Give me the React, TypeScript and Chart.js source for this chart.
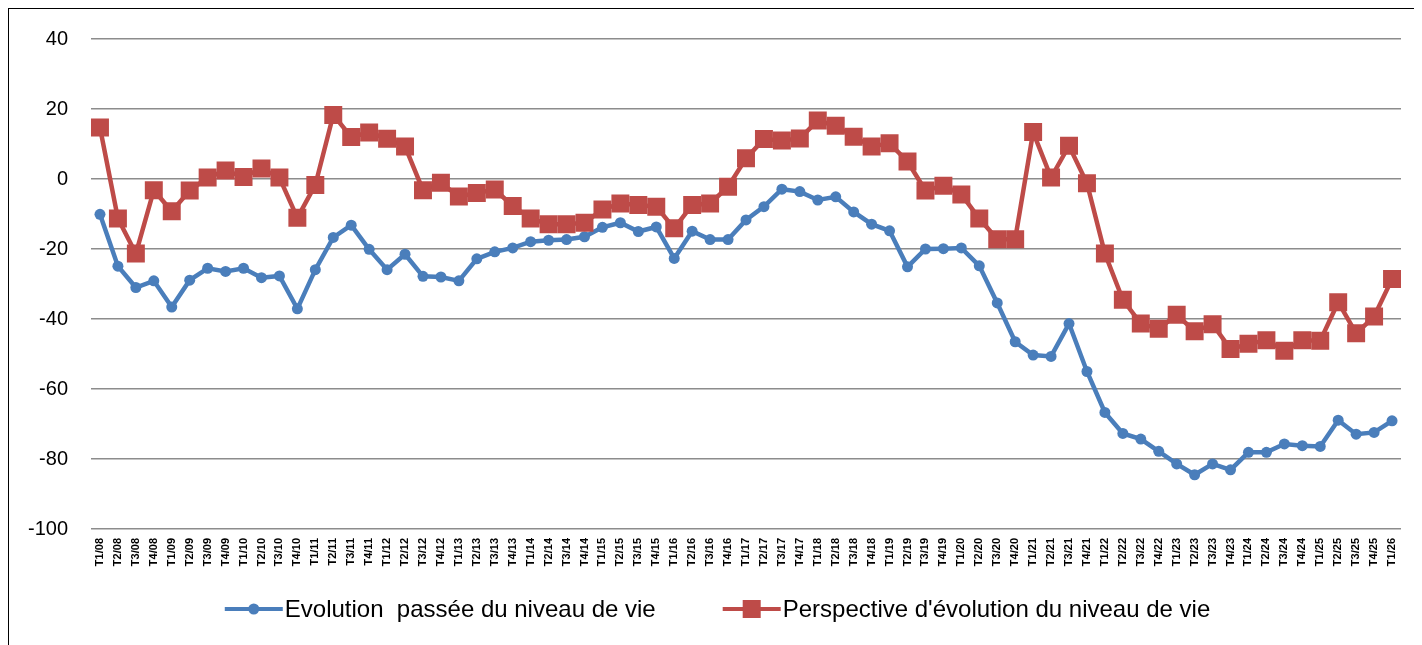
import React, { useEffect, useRef } from "react";
import { Chart, registerables } from "chart.js";

Chart.register(...registerables);

const years = ["08","09","10","11","12","13","14","15","16","17","18","19","20","21","22","23","24","25"];
const quarters = ["T1", "T2", "T3", "T4"];
const categories: string[] = [
  ...years.flatMap((y) => quarters.map((q) => `${q}/${y}`)),
  "T1/26",
];

const seriesLabels = [
  "Evolution  passée du niveau de vie",
  "Perspective d'évolution du niveau de vie",
];

const passee = [
  -10.1, -24.9, -31, -29.1, -36.6, -28.9, -25.5, -26.4, -25.5, -28.2,
  -27.7, -37.1, -25.9, -16.7, -13.2, -20.1, -25.9, -21.5, -27.8, -28,
  -29.1, -22.8, -20.8, -19.7, -17.9, -17.5, -17.3, -16.5, -13.8, -12.5,
  -15, -13.7, -22.7, -14.9, -17.3, -17.3, -11.7, -7.9, -2.9, -3.6,
  -6, -5.1, -9.4, -12.9, -14.8, -25.1, -20, -19.9, -19.7, -24.8,
  -35.4, -46.5, -50.3, -50.7, -41.3, -55, -66.7, -72.7, -74.3, -77.8,
  -81.4, -84.5, -81.4, -83.1, -78.1, -78.1, -75.7, -76.2, -76.4, -68.9,
  -72.9, -72.4, -69.1,
];

const perspective = [
  14.7, -11.3, -21.3, -3.2, -9.2, -3.3, 0.4, 2.4, 0.6, 3.0,
  0.4, -11.1, -1.7, 18.3, 12, 13.3, 11.5, 9.3, -3.2, -1.1,
  -5, -4, -3, -7.7, -11.3, -12.9, -12.9, -12.5, -8.7, -7,
  -7.4, -7.9, -14.1, -7.4, -7, -2.2, 5.9, 11.4, 11, 11.6,
  16.7, 15.2, 12.1, 9.3, 10.2, 5, -3.3, -1.9, -4.4, -11.3,
  -17.2, -17.2, 13.4, 0.4, 9.5, -1.2, -21.3, -34.5, -41.3, -42.8,
  -38.8, -43.5, -41.5, -48.6, -47.1, -46.1, -49.1, -46.1, -46.2, -35.2,
  -44.1, -39.3, -28.6,
];

const yMin = -100;
const yMax = 40;
const yStep = 20;

const BLUE = "#4A7EBB";
const RED = "#BE4B48";
const FONT = "'Liberation Sans', Arial, sans-serif";

const legendPlugin = {
  id: "customLegend",
  afterDraw(chart: any) {
    const ctx = chart.ctx;
    const datasets = chart.data.datasets;
    ctx.save();
    ctx.font = `24px ${FONT}`;
    const markerW = 58;
    const gapText = 2;
    const gapItems = 67;
    const widths = datasets.map((d: any) => markerW + gapText + ctx.measureText(d.label).width);
    const total = widths.reduce((a: number, b: number) => a + b, 0) + gapItems * (datasets.length - 1);
    let x = chart.width / 2 - total / 2 + 2;
    const y = 600;
    datasets.forEach((d: any, i: number) => {
      ctx.strokeStyle = d.borderColor;
      ctx.lineWidth = 4;
      ctx.beginPath();
      ctx.moveTo(x, y);
      ctx.lineTo(x + markerW, y);
      ctx.stroke();
      ctx.fillStyle = d.pointBackgroundColor;
      const cx = x + markerW / 2;
      if (d.pointStyle === "rect") {
        ctx.fillRect(cx - 9, y - 9, 18, 18);
      } else {
        ctx.beginPath();
        ctx.arc(cx, y, 5.5, 0, Math.PI * 2);
        ctx.fill();
      }
      ctx.fillStyle = "#000";
      ctx.textBaseline = "middle";
      ctx.textAlign = "left";
      ctx.fillText(d.label, x + markerW + gapText, y + 1);
      x += widths[i] + gapItems;
    });
    ctx.restore();
  },
};

export default function App() {
  const ref = useRef<HTMLCanvasElement>(null);
  useEffect(() => {
    if (!ref.current) return;
    const chart = new Chart(ref.current, {
      type: "line",
      data: {
        labels: categories,
        datasets: [
          {
            label: seriesLabels[0],
            data: passee,
            borderColor: BLUE,
            backgroundColor: BLUE,
            pointBackgroundColor: BLUE,
            pointBorderColor: BLUE,
            pointStyle: "circle",
            pointRadius: 5.5,
            pointBorderWidth: 0,
            borderWidth: 4.5,
            tension: 0,
            order: 1,
          },
          {
            label: seriesLabels[1],
            data: perspective,
            borderColor: RED,
            backgroundColor: RED,
            pointBackgroundColor: RED,
            pointBorderColor: RED,
            pointStyle: "rect",
            pointRadius: 12.7,
            pointBorderWidth: 0,
            borderWidth: 4.5,
            tension: 0,
            order: 0,
          },
        ],
      },
      options: {
        responsive: false,
        animation: false,
        layout: { padding: { top: 30, right: 21, left: 0, bottom: 0 } },
        plugins: {
          legend: { display: false },
          tooltip: { enabled: false },
          title: { display: false },
        },
        scales: {
          x: {
            offset: true,
            grid: { display: false, drawTicks: false },
            border: { display: false },
            ticks: {
              autoSkip: false,
              maxRotation: 90,
              minRotation: 90,
              padding: 9,
              color: "#000",
              font: { family: FONT, size: 11, weight: "bold" },
            },
            afterFit(scale: any) {
              scale.height = 116;
              scale.paddingTop = 0;
              scale.paddingBottom = 0;
            },
          },
          y: {
            min: yMin,
            max: yMax,
            grid: { color: "#8C8C8C", lineWidth: 1.5, drawTicks: false },
            border: { display: false },
            ticks: {
              stepSize: yStep,
              padding: 23,
              color: "#000",
              font: { family: FONT, size: 20 },
            },
            afterFit(scale: any) {
              scale.width = 82;
              scale.paddingTop = 0;
              scale.paddingBottom = 0;
            },
          },
        },
      },
      plugins: [legendPlugin],
    });
    return () => chart.destroy();
  }, []);

  return (
    <div
      style={{
        width: 1413,
        height: 636,
        borderTop: "1.5px solid #000",
        borderLeft: "1.5px solid #000",
        overflow: "hidden",
        background: "#fff",
      }}
    >
      <canvas ref={ref} width={1413} height={636} style={{ display: "block" }} />
    </div>
  );
}
